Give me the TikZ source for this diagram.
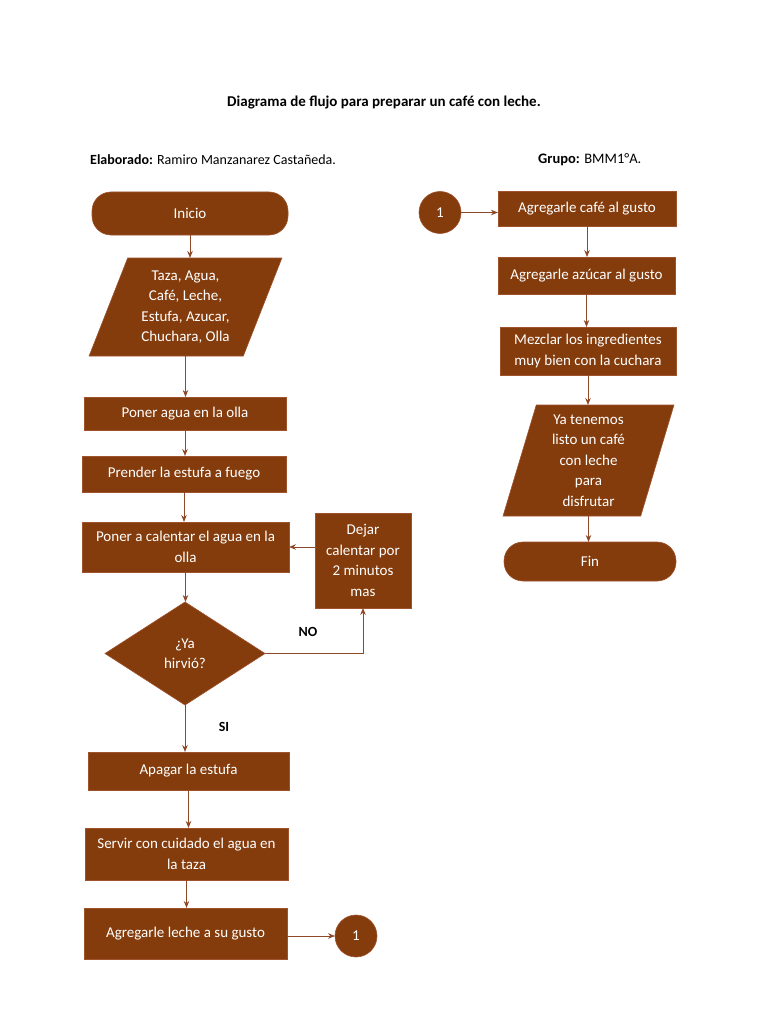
\documentclass[tikz,border=0pt]{standalone}
\usepackage{fontspec}
\setmainfont{Carlito}
\usetikzlibrary{shapes.geometric,arrows.meta}
\definecolor{brownfill}{HTML}{843C0C}
\definecolor{brownedge}{HTML}{A0522D}
\definecolor{brownline}{HTML}{8E4A28}
\tikzset{
  base/.style={fill=brownfill, draw=brownedge, line width=0.6pt, text=white,
    font=\fontsize{15}{20.5}\selectfont, align=center, inner sep=0pt, outer sep=0pt},
  procbox/.style={base, rectangle},
  termbox/.style={base, rectangle, rounded corners=19pt},
  parabox/.style={base, trapezium, trapezium stretches=true},
  decbox/.style={base, diamond},
  connbox/.style={base, circle, minimum size=42pt},
  arr/.style={draw=brownline, line width=0.9pt, -{Stealth[length=7pt,width=5.5pt]}},
  lbl/.style={font=\fontsize{14}{16}\selectfont\bfseries, text=black, inner sep=0pt},
  hdr/.style={font=\fontsize{14}{16}\selectfont, text=black, inner sep=0pt},
}
\begin{document}
\begin{tikzpicture}[x=1pt,y=-1pt]
\useasboundingbox[fill=white] (0,0) rectangle (768,1024);

% header
\node[hdr, font=\fontsize{15}{16}\selectfont\bfseries] (title) at (384,103) {Diagrama de flujo para preparar un café con leche.};
\node[hdr, anchor=west] (autor) at (90,160) {\textbf{Elaborado:} Ramiro Manzanarez Castañeda.};
\node[hdr, anchor=west, font=\fontsize{14.5}{16}\selectfont] (grupo) at (538,160) {\textbf{Grupo:} BMM1°A.};

% left column
\node[termbox, minimum width=196pt, minimum height=43pt] (inicio) at (190,213.5) {Inicio};
\node[parabox, trapezium left angle=68, trapezium right angle=112,
      minimum width=193pt, minimum height=98pt] (insumos) at (185.5,307)
  {Taza, Agua,\\Café, Leche,\\Estufa, Azucar,\\Chuchara, Olla};
\node[procbox, minimum width=202pt, minimum height=33pt] (agua) at (185,413.5) {Poner agua en la olla};
\node[procbox, minimum width=204pt, minimum height=36pt] (prender) at (184,474) {Prender la estufa a fuego};
\node[procbox, minimum width=207pt, minimum height=50pt] (calentar) at (185.5,547) {Poner a calentar el agua en la\\olla};
\node[procbox, minimum width=96pt, minimum height=95pt] (dejar) at (363,560.5) {Dejar\\calentar por\\2 minutos\\mas};
\node[decbox, minimum width=160pt, minimum height=103pt, aspect=1.55] (hirvio) at (185,653.5) {¿Ya\\hirvió?};
\node[procbox, minimum width=201pt, minimum height=38pt] (apagar) at (188.5,771) {Apagar la estufa};
\node[procbox, minimum width=203pt, minimum height=52pt] (servir) at (186.5,854) {Servir con cuidado el agua en\\la taza};
\node[procbox, minimum width=203pt, minimum height=51pt] (leche) at (185.5,933.5) {Agregarle leche a su gusto};
\node[connbox] (c1) at (356,936) {1};

\node[lbl] (no) at (308,632) {NO};
\node[lbl] (si) at (224,727) {SI};

% right column
\node[connbox] (c2) at (440,212.5) {1};
\node[procbox, minimum width=178pt, minimum height=35pt] (cafe) at (587,208.5) {Agregarle café al gusto};
\node[procbox, minimum width=177pt, minimum height=37pt] (azucar) at (586.5,275.5) {Agregarle azúcar al gusto};
\node[procbox, minimum width=176pt, minimum height=48pt] (mezclar) at (588,351) {Mezclar los ingredientes\\muy bien con la cuchara};
\node[parabox, trapezium left angle=75.8, trapezium right angle=104.2,
      minimum width=171pt, minimum height=111pt] (listo) at (588.5,460.5)
  {Ya tenemos\\listo un café\\con leche\\para\\disfrutar};
\node[termbox, minimum width=172pt, minimum height=39pt] (fin) at (590,561.5) {Fin};

% connectors left
\draw[arr] (inicio.south) -- (inicio.south |- insumos.north);
\draw[arr] (insumos.south) -- (insumos.south |- agua.north);
\draw[arr] (agua.south) -- (agua.south |- prender.north);
\draw[arr] (prender.south) -- (prender.south |- calentar.north);
\draw[arr] (calentar.south) -- (calentar.south |- hirvio.north);
\draw[arr] (hirvio.east) -| (dejar.south);
\draw[arr] (dejar.west |- calentar.east) -- (calentar.east);
\draw[arr] (hirvio.south) -- (hirvio.south |- apagar.north);
\draw[arr] (apagar.south) -- (apagar.south |- servir.north);
\draw[arr] (servir.south) -- (servir.south |- leche.north);
\draw[arr] (leche.east |- c1.west) -- (c1.west);

% connectors right
\draw[arr] (c2.east) -- (c2.east -| cafe.west);
\draw[arr] (cafe.south) -- (cafe.south |- azucar.north);
\draw[arr] (azucar.south) -- (azucar.south |- mezclar.north);
\draw[arr] (mezclar.south) -- (mezclar.south |- listo.north);
\draw[arr] (listo.south) -- (listo.south |- fin.north);
\end{tikzpicture}
\end{document}
